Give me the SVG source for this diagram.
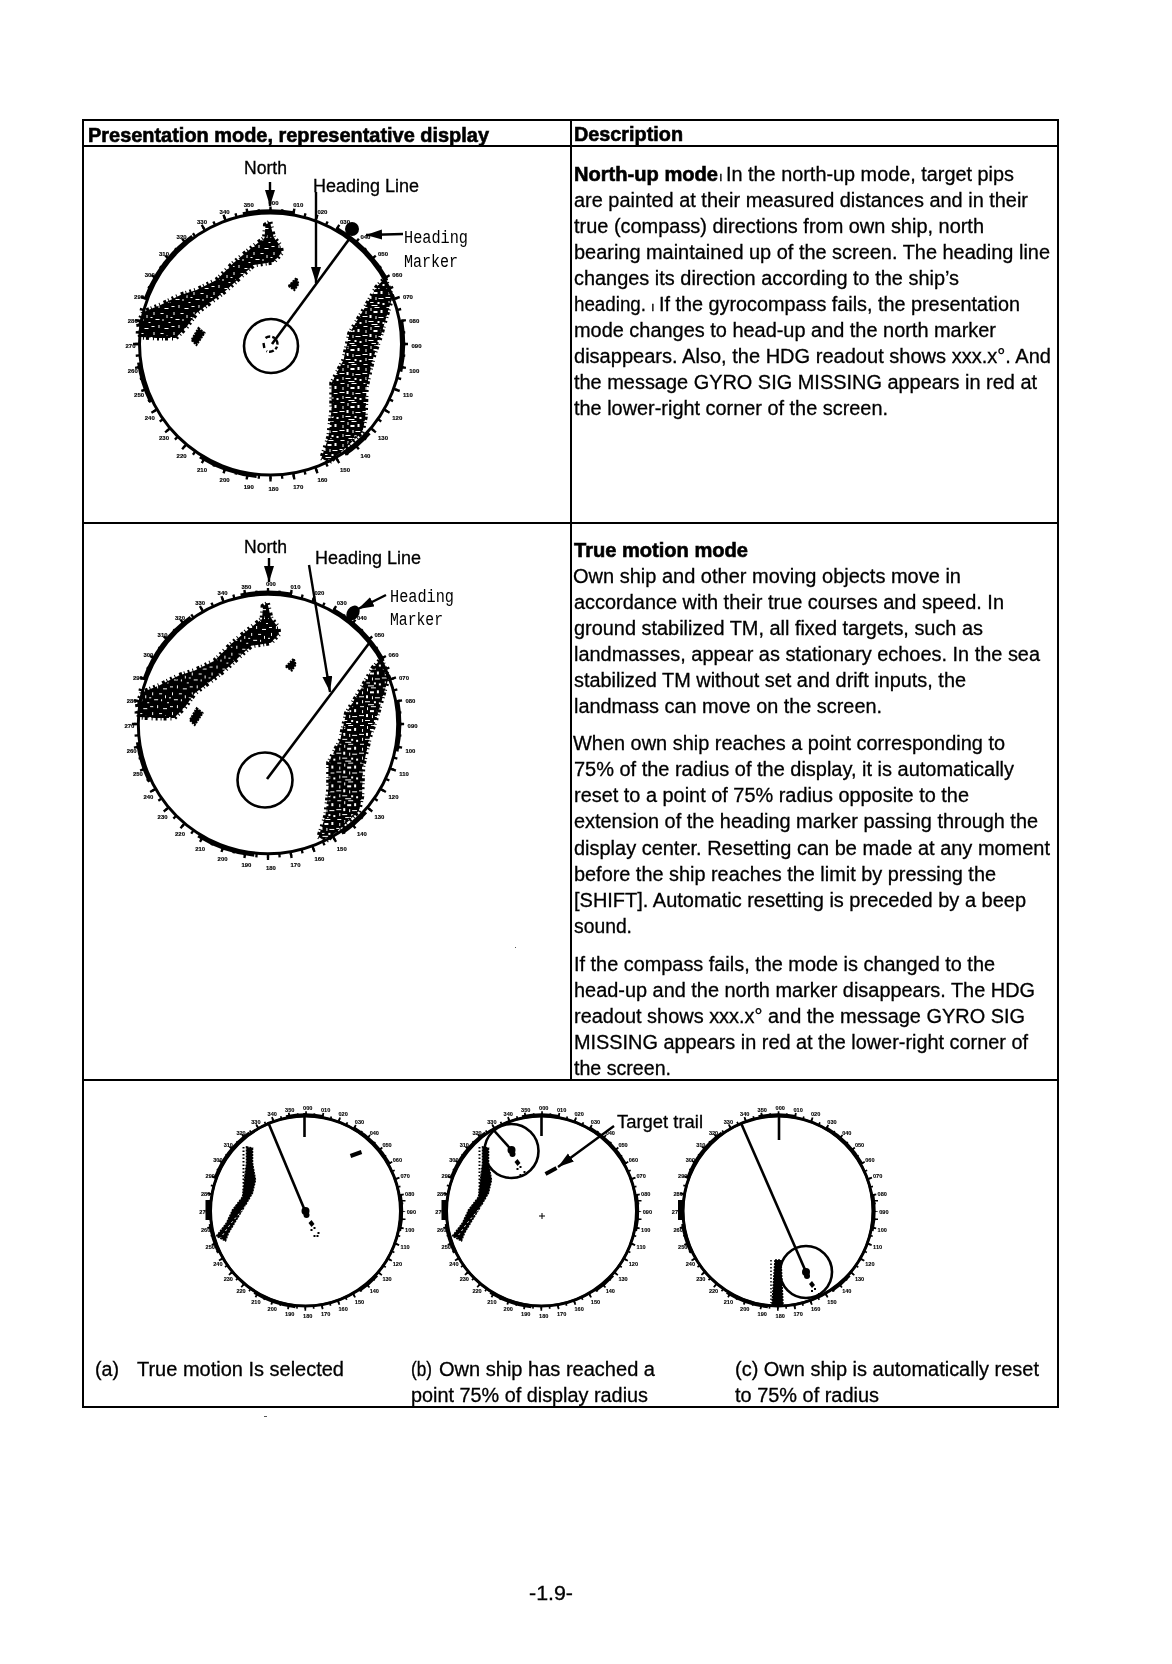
<svg xmlns="http://www.w3.org/2000/svg" xmlns:xlink="http://www.w3.org/1999/xlink" width="1172" height="1664" viewBox="0 0 1172 1664">
<style>
text{font-family:"Liberation Sans",Arial,sans-serif;fill:#000;stroke:#000;stroke-width:.3}
.b{font-size:20px}
.h{font-weight:bold;font-size:20px;stroke-width:.6}
.l{font-size:18px}
.m{font-family:"Liberation Mono","Courier New",monospace;font-size:19px;stroke-width:0}
.ds text{text-anchor:middle;font-weight:bold;stroke-width:.15}
.rule{stroke:#000;stroke-width:2;fill:none}
.ring{fill:none;stroke:#000;stroke-width:3}
.own{fill:none;stroke:#000;stroke-width:2.6}
.ln{fill:none;stroke:#000;stroke-width:2.6}
.ar{fill:none;stroke:#000;stroke-width:2.4;marker-end:url(#ah)}
</style>
<defs>
<filter id="soft" filterUnits="userSpaceOnUse" x="0" y="0" width="1172" height="1664"><feGaussianBlur stdDeviation=".4"/></filter>
<marker id="ah" markerUnits="userSpaceOnUse" markerWidth="18" markerHeight="12" refX="16" refY="5" orient="auto"><path d="M0 0L16 5L0 10Z" fill="#000"/></marker>
<pattern id="sp1" width="20" height="20" patternUnits="userSpaceOnUse"><rect width="20" height="20" fill="#000"/><path fill="#fff" d="M1 2h3v1h-3zM8 1h1v3h-1zM14 4h4v1h-4zM3 8h1v3h-1zM10 9h3v1h-3zM16 11h1v3h-1zM5 15h4v1h-4zM12 15h1v2h-1zM18 18h2v1h-2zM0 13h2v1h-2z"/></pattern>
<pattern id="sp2" width="23" height="19" patternUnits="userSpaceOnUse"><rect width="23" height="19" fill="#000"/><path fill="#fff" d="M1 1h4v1h-4zM8 2h1v3h-1zM12 1h5v1h-5zM3 5h1v3h-1zM11 5h4v2h-4zM18 4h2v3h-2zM0 10h5v1h-5zM7 9h2v3h-2zM13 10h1v3h-1zM16 11h5v1h-5zM3 14h1v3h-1zM6 15h5v1h-5zM15 15h2v2h-2zM20 16h2v2h-2zM9 18h6v1h-6z"/></pattern>
<g id="dial" class="ds">
<circle class="ring" r="131"/>
<circle r="133.500" fill="none" stroke="#000" stroke-width="3.500" pathLength="360" stroke-dasharray="1 4" stroke-dashoffset=".5"/>
<circle r="135" fill="none" stroke="#000" stroke-width="5" pathLength="360" stroke-dasharray="1 9" stroke-dashoffset=".5"/>
<circle r="133" fill="none" stroke="#000" stroke-width="3.500" pathLength="360" stroke-dasharray="30 20 22 30 14 40 26 32 18 28 34 24 22 20" stroke-dashoffset="60"/>
<text x="3" y="-139">000</text><text x="27.8" y="-136.8">010</text><text x="51.9" y="-130.4">020</text><text x="74.5" y="-119.8">030</text><text x="94.9" y="-105.5">040</text><text x="112.5" y="-87.9">050</text><text x="126.8" y="-67.5">060</text><text x="137.4" y="-44.9">070</text><text x="143.8" y="-20.8">080</text><text x="146" y="4">090</text><text x="143.8" y="28.8">100</text><text x="137.4" y="52.9">110</text><text x="126.8" y="75.5">120</text><text x="112.5" y="95.9">130</text><text x="94.9" y="113.5">140</text><text x="74.5" y="127.8">150</text><text x="51.9" y="138.4">160</text><text x="27.8" y="144.8">170</text><text x="3" y="147">180</text><text x="-21.8" y="144.8">190</text><text x="-45.9" y="138.4">200</text><text x="-68.5" y="127.8">210</text><text x="-88.9" y="113.5">220</text><text x="-106.5" y="95.9">230</text><text x="-120.8" y="75.5">240</text><text x="-131.4" y="52.9">250</text><text x="-137.8" y="28.8">260</text><text x="-140" y="4">270</text><text x="-137.8" y="-20.8">280</text><text x="-131.4" y="-44.9">290</text><text x="-120.8" y="-67.5">300</text><text x="-106.5" y="-87.9">310</text><text x="-88.9" y="-105.5">320</text><text x="-68.5" y="-119.8">330</text><text x="-45.9" y="-130.4">340</text><text x="-21.8" y="-136.8">350</text>
</g>
<g id="land">
<path fill="url(#sp1)" stroke="#000" stroke-width="5" stroke-dasharray="2 3 1 4 3 2 1 3" d="M-.5-122L3-107L10-98L11-91L3-82L-17-79L-30-67L-44-54L-57-44L-74-31L-84-17L-95-6L-114-6L-130-7L-132-21L-127-32L-110-39L-90-49L-74-54L-54-64L-37-81L-24-92L-14-100L-6-106L-5-119Z"/>
<path fill="#000" stroke="#000" stroke-width="2" stroke-dasharray="2 1" d="M-72-16L-66-11L-74 1L-79-4ZM18-58L26-66L28-60L24-54Z"/>
<path fill="url(#sp2)" stroke="#000" stroke-width="4.500" stroke-dasharray="3 2 1 3 2 4 1 2" d="M114.5-66L122-47L117-31L110-7L103 13L96 43L95 73L92 88L76 103L58 119L51 114L58 93L61 66L61 39L73 16L79-11L93-34L106-57Z"/>
</g>
<g id="trail">
<circle r="4" fill="#000"/><circle cx="1" cy="4" r="3" fill="#000"/>
<path fill="#000" d="M6 9L9 13L6 16L3 12Z"/>
<path fill="#000" d="M8 16h2v2h-2zM5 18h2v2h-2zM12 21h2v2h-2zM8 24h2v2h-2zM11 24h2v2h-2z"/>
</g>
<g id="dials" font-size="7.7">
<use href="#dial" transform="scale(.725)"/>
<circle class="ring" r="95"/>
<path fill="#000" d="M-100-11h5v20h-5zM95-11h2v20h-2zM97-11h3v1.500h-3zM97 7.500h3v1.500h-3z"/>
</g>
<g id="westland">
<path fill="#000" stroke="#000" stroke-width="1.500" stroke-dasharray="2 1" d="M-59-64L-53-63L-53-48L-50-31L-53-18L-60-6L-68 7L-77 22L-80 30L-89 25L-79 12L-73-1L-63-14L-61-31L-59-48Z"/>
<path fill="none" stroke="#000" stroke-width="2" stroke-dasharray="1.500 2" d="M-62-64V-18"/>
<path fill="none" stroke="#fff" stroke-width="1" stroke-dasharray="2 3" d="M-60-5L-75 13L-85 27"/>
</g>
</defs>
<rect width="1172" height="1664" fill="#fff"/>
<g filter="url(#soft)">
<g id="table">
<path class="rule" d="M83 120H1058V1407H83ZM83 146H1058M83 523H1058M83 1080H1058M571 120V1080"/>
<path fill="#555" d="M515 947h1v1h-1zM264 1416h3v1h-3z"/>
</g>

<g id="header-left"><text class="h" x="88" y="142" textLength="401" lengthAdjust="spacingAndGlyphs">Presentation mode, representative display</text></g>
<g id="header-right"><text class="h" x="574" y="141" textLength="109" lengthAdjust="spacingAndGlyphs">Description</text></g>

<g id="north-up-description">
<text class="h" x="574" y="181" textLength="144" lengthAdjust="spacingAndGlyphs">North-up mode</text>
<text class="b" x="719" y="181" style="font-size:13px">ı</text>
<text class="b" x="726" y="181" textLength="288" lengthAdjust="spacingAndGlyphs">In the north-up mode, target pips</text>
<text class="b" x="574" y="207" textLength="454" lengthAdjust="spacingAndGlyphs">are painted at their measured distances and in their</text>
<text class="b" x="574" y="233" textLength="410" lengthAdjust="spacingAndGlyphs">true (compass) directions from own ship, north</text>
<text class="b" x="574" y="259" textLength="476" lengthAdjust="spacingAndGlyphs">bearing maintained up of the screen. The heading line</text>
<text class="b" x="574" y="285" textLength="385" lengthAdjust="spacingAndGlyphs">changes its direction according to the ship’s</text>
<text class="b" x="574" y="311" textLength="72" lengthAdjust="spacingAndGlyphs">heading.</text>
<text class="b" x="651" y="311" style="font-size:13px">ı</text>
<text class="b" x="659" y="311" textLength="361" lengthAdjust="spacingAndGlyphs">If the gyrocompass fails, the presentation</text>
<text class="b" x="574" y="337" textLength="422" lengthAdjust="spacingAndGlyphs">mode changes to head-up and the north marker</text>
<text class="b" x="574" y="363" textLength="477" lengthAdjust="spacingAndGlyphs">disappears. Also, the HDG readout shows xxx.x°. And</text>
<text class="b" x="574" y="389" textLength="463" lengthAdjust="spacingAndGlyphs">the message GYRO SIG MISSING appears in red at</text>
<text class="b" x="574" y="415" textLength="314" lengthAdjust="spacingAndGlyphs">the lower-right corner of the screen.</text>
</g>

<g id="true-motion-description">
<text class="h" x="574" y="557" textLength="174" lengthAdjust="spacingAndGlyphs">True motion mode</text>
<text class="b" x="573" y="583" textLength="388" lengthAdjust="spacingAndGlyphs">Own ship and other moving objects move in</text>
<text class="b" x="574" y="609" textLength="430" lengthAdjust="spacingAndGlyphs">accordance with their true courses and speed. In</text>
<text class="b" x="574" y="635" textLength="409" lengthAdjust="spacingAndGlyphs">ground stabilized TM, all fixed targets, such as</text>
<text class="b" x="574" y="661" textLength="466" lengthAdjust="spacingAndGlyphs">landmasses, appear as stationary echoes. In the sea</text>
<text class="b" x="574" y="687" textLength="392" lengthAdjust="spacingAndGlyphs">stabilized TM without set and drift inputs, the</text>
<text class="b" x="574" y="713" textLength="308" lengthAdjust="spacingAndGlyphs">landmass can move on the screen.</text>
<text class="b" x="573" y="750" textLength="432" lengthAdjust="spacingAndGlyphs">When own ship reaches a point corresponding to</text>
<text class="b" x="574" y="776" textLength="440" lengthAdjust="spacingAndGlyphs">75% of the radius of the display, it is automatically</text>
<text class="b" x="574" y="802" textLength="395" lengthAdjust="spacingAndGlyphs">reset to a point of 75% radius opposite to the</text>
<text class="b" x="574" y="828" textLength="464" lengthAdjust="spacingAndGlyphs">extension of the heading marker passing through the</text>
<text class="b" x="574" y="855" textLength="476" lengthAdjust="spacingAndGlyphs">display center. Resetting can be made at any moment</text>
<text class="b" x="574" y="881" textLength="422" lengthAdjust="spacingAndGlyphs">before the ship reaches the limit by pressing the</text>
<text class="b" x="574" y="907" textLength="452" lengthAdjust="spacingAndGlyphs">[SHIFT]. Automatic resetting is preceded by a beep</text>
<text class="b" x="574" y="933" textLength="58" lengthAdjust="spacingAndGlyphs">sound.</text>
<text class="b" x="574" y="971" textLength="421" lengthAdjust="spacingAndGlyphs">If the compass fails, the mode is changed to the</text>
<text class="b" x="574" y="997" textLength="461" lengthAdjust="spacingAndGlyphs">head-up and the north marker disappears. The HDG</text>
<text class="b" x="574" y="1023" textLength="451" lengthAdjust="spacingAndGlyphs">readout shows xxx.x° and the message GYRO SIG</text>
<text class="b" x="574" y="1049" textLength="454" lengthAdjust="spacingAndGlyphs">MISSING appears in red at the lower-right corner of</text>
<text class="b" x="574" y="1075" textLength="97" lengthAdjust="spacingAndGlyphs">the screen.</text>
</g>

<g id="radar-north-up">
<g transform="translate(270.500 344)" font-size="6">
<use href="#land"/><use href="#dial"/>
<path fill="none" stroke="#000" stroke-width="2.400" stroke-dasharray="5 2 3 2" d="M-5-6A7 7 0 1 1 4 6Q0 9-4 7M-7-1L-6 5"/>
</g>
<circle class="own" cx="271" cy="346" r="27"/>
<line class="ln" x1="272" y1="344" x2="350" y2="238"/>
<circle cx="352" cy="229" r="7" fill="#000"/>
<text class="l" x="244" y="174" textLength="43" lengthAdjust="spacingAndGlyphs">North</text>
<text class="l" x="313" y="192" textLength="106" lengthAdjust="spacingAndGlyphs">Heading Line</text>
<text class="m" x="404" y="243" textLength="64" lengthAdjust="spacingAndGlyphs">Heading</text>
<text class="m" x="404" y="267" textLength="54" lengthAdjust="spacingAndGlyphs">Marker</text>
</g>

<g id="radar-true-motion">
<g transform="translate(268 724) scale(.99)" font-size="6">
<use href="#land"/><use href="#dial"/>
</g>
<circle class="own" cx="265" cy="780" r="27.500"/>
<line class="ln" x1="267" y1="779" x2="370" y2="642"/>
<ellipse cx="353" cy="613" rx="6" ry="8" fill="#000" transform="rotate(35 353 613)"/>
<text class="l" x="244" y="553" textLength="43" lengthAdjust="spacingAndGlyphs">North</text>
<text class="l" x="315" y="564" textLength="106" lengthAdjust="spacingAndGlyphs">Heading Line</text>
<text class="m" x="390" y="602" textLength="64" lengthAdjust="spacingAndGlyphs">Heading</text>
<text class="m" x="390" y="625" textLength="53" lengthAdjust="spacingAndGlyphs">Marker</text>
</g>

<g id="radar-a" transform="translate(305.500 1211)">
<use href="#westland"/><use href="#dials"/>
<path class="ln" stroke-width="3" d="M-1-98V-74"/>
<line class="ln" x1="-37.500" y1="-89" x2="0" y2="1"/>
<use href="#trail"/>
<path stroke="#000" stroke-width="4" d="M45-55L56-59"/>
</g>
<g id="radar-b" transform="translate(541.500 1211)">
<use href="#westland"/><use href="#dials"/>
<path class="ln" d="M0-96V-75"/>
<circle class="own" cx="-30" cy="-60" r="27"/>
<line class="ln" x1="-48" y1="-81" x2="-30" y2="-61"/>
<use href="#trail" x="-30" y="-61"/>
<path stroke="#000" stroke-width="4" d="M4-37L15-43"/>
<path stroke="#000" stroke-width="1" d="M-2.500 5H3.500M.5 2V8"/>
</g>
<g id="label-target-trail"><text class="l" x="617" y="1128" textLength="86" lengthAdjust="spacingAndGlyphs">Target trail</text></g>
<g id="radar-c" transform="translate(778 1211)">
<use href="#dials"/>
<path fill="#000" stroke="#000" stroke-width="1.500" stroke-dasharray="2 1" d="M-3 49H3L5 94H-6Z"/>
<path fill="none" stroke="#000" stroke-width="1.500" stroke-dasharray="1.500 2" d="M-7 49V92"/>
<path class="ln" d="M1-97V-71"/>
<circle class="own" cx="28" cy="61" r="26"/>
<line class="ln" x1="-37" y1="-88" x2="28" y2="61"/>
<use href="#trail" x="28" y="61"/>
</g>

<g id="captions">
<text class="b" x="95" y="1376" textLength="24" lengthAdjust="spacingAndGlyphs">(a)</text>
<text class="b" x="137" y="1376" textLength="207" lengthAdjust="spacingAndGlyphs">True motion Is selected</text>
<text class="b" x="411" y="1376" textLength="21" lengthAdjust="spacingAndGlyphs">(b)</text>
<text class="b" x="439" y="1376" textLength="216" lengthAdjust="spacingAndGlyphs">Own ship has reached a</text>
<text class="b" x="411" y="1402" textLength="237" lengthAdjust="spacingAndGlyphs">point 75% of display radius</text>
<text class="b" x="735" y="1376" textLength="304" lengthAdjust="spacingAndGlyphs">(c) Own ship is automatically reset</text>
<text class="b" x="735" y="1402" textLength="144" lengthAdjust="spacingAndGlyphs">to 75% of radius</text>
</g>
<g id="page-number"><text class="b" x="529" y="1600" textLength="44" lengthAdjust="spacingAndGlyphs">-1.9-</text></g>

<g id="connectors">
<line class="ar" x1="270" y1="182" x2="270" y2="206"/>
<line class="ar" x1="316" y1="192" x2="316" y2="283"/>
<line class="ar" x1="403" y1="234" x2="366" y2="235"/>
<line class="ar" x1="269" y1="558" x2="269" y2="582"/>
<line class="ar" x1="309" y1="565" x2="330" y2="692"/>
<line class="ar" x1="386" y1="595" x2="358" y2="609"/>
<line class="ar" x1="614" y1="1126" x2="558" y2="1167"/>
</g>
</g>
</svg>
